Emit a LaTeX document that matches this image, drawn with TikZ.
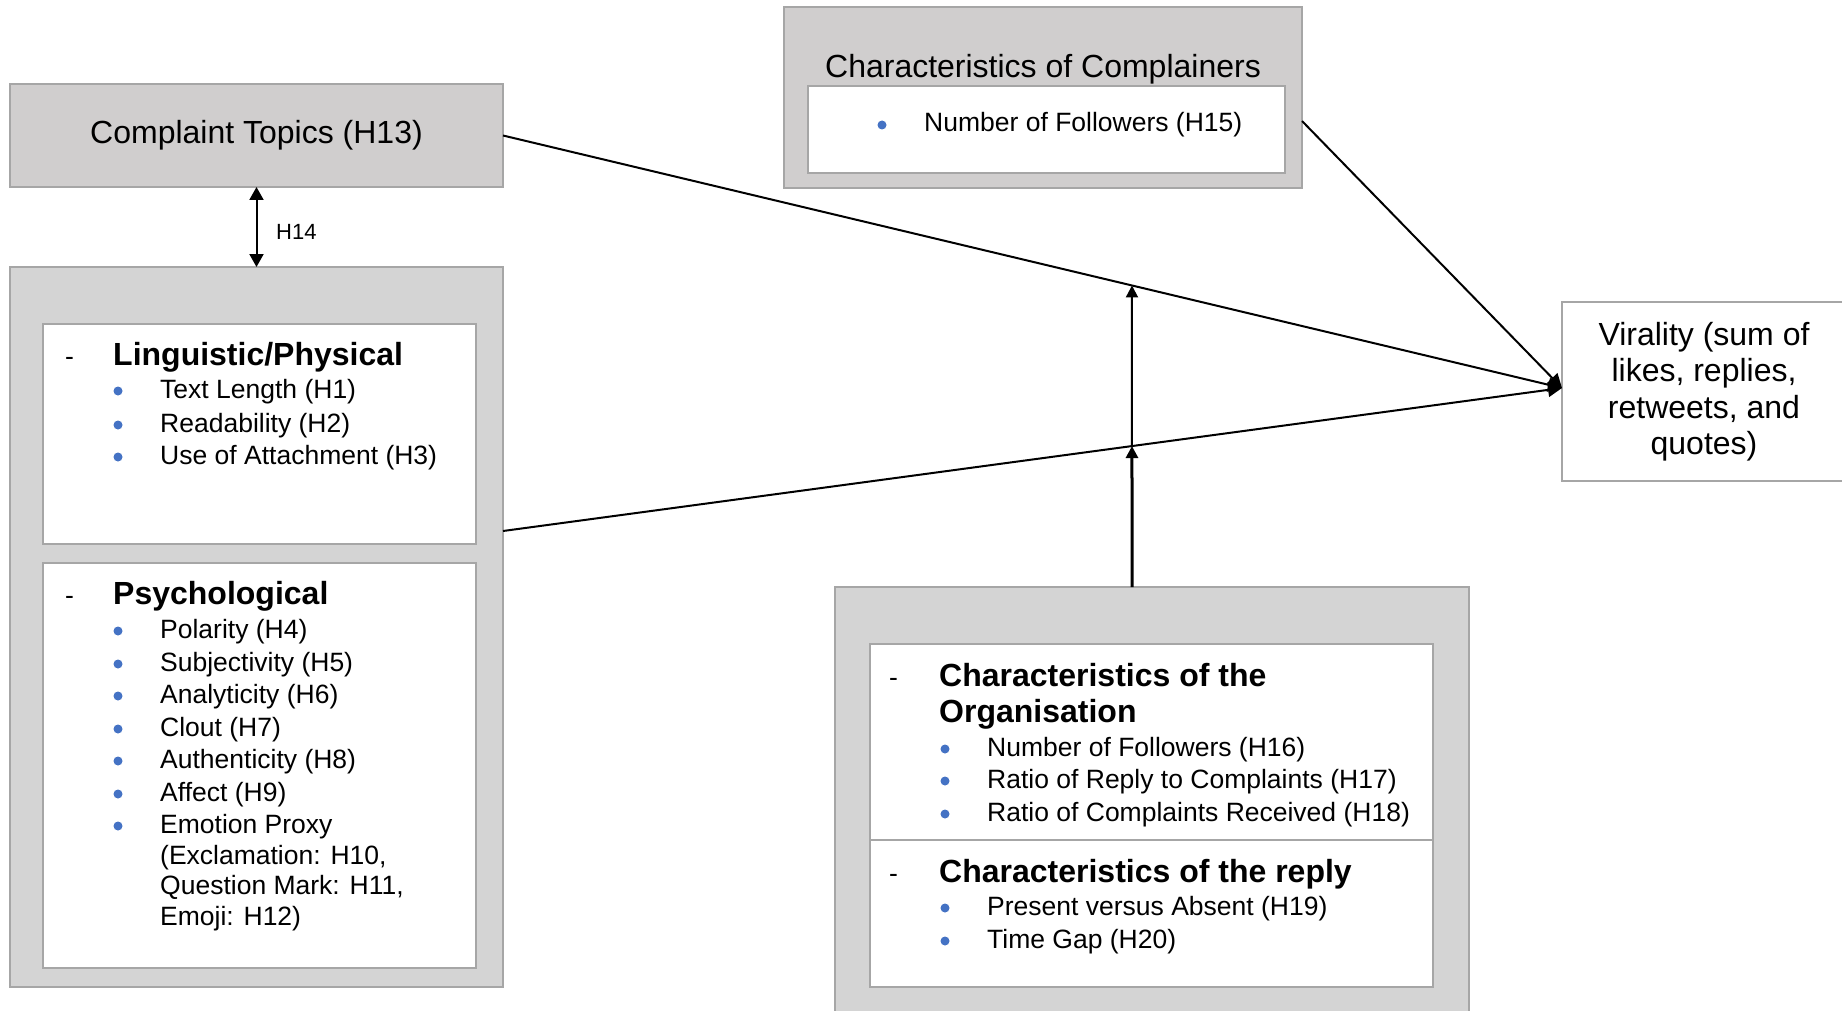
\documentclass[tikz,border=0pt]{standalone}
\usepackage{fontspec}
\setmainfont{Liberation Sans}
\usetikzlibrary{arrows.meta,calc}

\definecolor{topicgray}{RGB}{208,206,206}
\definecolor{panelgray}{RGB}{212,212,212}
\definecolor{edgegray}{RGB}{166,166,166}
\definecolor{bulletblue}{RGB}{68,114,196}

\newcommand{\itemfont}{\fontsize{26.5}{32.5}\selectfont}
\newcommand{\headfont}{\fontsize{32}{36}\selectfont\bfseries}
\newcommand{\titlefont}{\fontsize{32}{36}\selectfont}

% one bulleted line: node name, bullet x, baseline y, text
\newcommand{\bulletline}[4]{%
  \fill[bulletblue] (#2,#3-7) circle (4.5);
  \node[itemtext] (#1) at (#2+42,#3) {#4};}

\tikzset{
  panel/.style={draw=edgegray, line width=2pt, inner sep=0pt, outer sep=0pt,
    anchor=north west},
  itemtext/.style={anchor=base west, inner sep=0pt, font=\itemfont},
  headtext/.style={anchor=base west, inner sep=0pt, font=\headfont},
  conn/.style={draw=black, line width=2pt,
    -{Triangle[length=14pt,width=14pt]}},
}

\begin{document}
\begin{tikzpicture}[x=1pt,y=-1pt]
\clip (0,0) rectangle (1842,1011);

% ---------- boxes ----------
\node[panel, fill=topicgray, minimum width=493, minimum height=103,
  font=\titlefont] (ct) at (10,84) {Complaint Topics (H13)};

\node[panel, fill=panelgray, minimum width=493, minimum height=720] (left) at (10,267) {};
\node[panel, fill=white, line width=2.5pt, minimum width=433, minimum height=220] (ling) at (43,324) {};
\node[panel, fill=white, line width=2.5pt, minimum width=433, minimum height=405] (psych) at (43,563) {};

\node[panel, fill=topicgray, minimum width=518, minimum height=181] (comp) at (784,7) {};
\node[panel, fill=white, minimum width=477, minimum height=87] (compin) at (807.5,86) {};

\node[panel, fill=panelgray, minimum width=634, minimum height=440] (org) at (835,587) {};
\node[panel, fill=white, line width=2.5pt, minimum width=563, minimum height=196] (orgin) at (870,644) {};
\node[panel, fill=white, line width=2.5pt, minimum width=563, minimum height=147] (reply) at (870,840) {};

\node[panel, fill=white, minimum width=284, minimum height=179, align=center,
  font=\fontsize{32}{36.5}\selectfont] (vir) at (1562,302)
  {Virality (sum of\\likes, replies,\\retweets, and\\quotes)};

% ---------- complainers ----------
\node[anchor=base, inner sep=0pt, font=\titlefont] (comptitle) at (1043,78) {Characteristics of Complainers};
\bulletline{f15}{882}{132}{Number of Followers (H15)}

% ---------- linguistic / physical ----------
\node[itemtext] (dling) at (65,365) {-};
\node[headtext] (hling) at (113,365) {Linguistic/Physical};
\bulletline{h1}{118}{398}{Text Length (H1)}
\bulletline{h2}{118}{432}{Readability (H2)}
\bulletline{h3}{118}{464}{Use of Attachment (H3)}

% ---------- psychological ----------
\node[itemtext] (dpsy) at (65,604) {-};
\node[headtext] (hpsy) at (113,604) {Psychological};
\bulletline{h4}{118}{638}{Polarity (H4)}
\bulletline{h5}{118}{671}{Subjectivity (H5)}
\bulletline{h6}{118}{703}{Analyticity (H6)}
\bulletline{h7}{118}{736}{Clout (H7)}
\bulletline{h8}{118}{768}{Authenticity (H8)}
\bulletline{h9}{118}{801}{Affect (H9)}
\bulletline{emo}{118}{833}{Emotion Proxy}
% multi-line text: the base anchor sits on the last line
\node[itemtext, align=left, font=\fontsize{26.5}{30.5}\selectfont] (emo2) at (160,925)
  {(Exclamation: H10,\\Question Mark: H11,\\Emoji: H12)};

% ---------- organisation ----------
\node[itemtext] (dorg) at (889,686) {-};
\node[headtext, align=left] (horg) at (939,722) {Characteristics of the\\Organisation};
\bulletline{h16}{945}{756}{Number of Followers (H16)}
\bulletline{h17}{945}{788}{Ratio of Reply to Complaints (H17)}
\bulletline{h18}{945}{821}{Ratio of Complaints Received (H18)}

% ---------- reply ----------
\node[itemtext] (drep) at (889,882) {-};
\node[headtext] (hrep) at (939,882) {Characteristics of the reply};
\bulletline{h19}{945}{915}{Present versus Absent (H19)}
\bulletline{h20}{945}{948}{Time Gap (H20)}

% ---------- connectors ----------
\draw[line width=2pt, {Triangle[length=13pt,width=14pt]}-{Triangle[length=13pt,width=14pt]}]
  (ct.south) -- (left.north);
\node[anchor=base west, inner sep=0pt, font=\fontsize{22}{26}\selectfont] (h14) at (276,240) {H14};

\coordinate (vtip) at ([yshift=3.5pt]vir.west);
\coordinate (lpout) at ([yshift=-264pt]left.north east);
\coordinate (cpout) at ([yshift=-23.5pt]comp.east);
\coordinate (orgtop) at ([xshift=-20pt]org.north);
\coordinate (orgup) at ([yshift=500pt]orgtop);
\coordinate (m1) at (intersection of ct.east--vtip and orgtop--orgup);
\coordinate (m2) at (intersection of lpout--vtip and orgtop--orgup);

\draw[conn] (ct.east) -- (vtip);
\draw[conn] (lpout) -- (vtip);
\draw[conn] (cpout) -- (vtip);
\draw[conn, line width=3pt, -{Triangle[length=12pt,width=12pt]}] (orgtop) -- (m2);
\draw[conn, -{Triangle[length=12pt,width=12pt]}] (m2) -- (m1);
\end{tikzpicture}
\end{document}
